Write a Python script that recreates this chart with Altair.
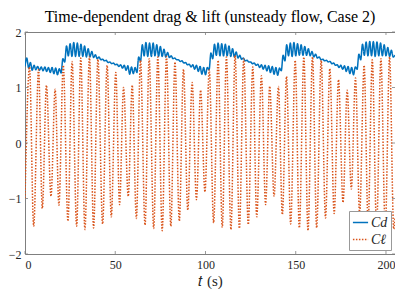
import altair as alt
import pandas as pd

title_text = "Time-dependent drag & lift (unsteady flow, Case 2)"
x_label = "𝑡 (s)"
series_names = ["Cd", "Cℓ"]
x_ticks = [0, 50, 100, 150, 200]
y_ticks = [-2, -1, 0, 1, 2]

# lift coefficient: successive peaks / troughs
cl_t = [0, 2.5, 4.8, 7.5, 9.6, 11.9, 14.4, 16.7, 18.8, 21.2, 23.8, 26.1, 28.6,
        30.9, 33.2, 35.7, 38.0, 40.4, 43.0, 45.5, 47.8, 50.3, 52.4, 54.6, 57.2,
        59.4, 61.7, 64.0, 66.5, 68.8, 71.3, 73.6, 76.0, 78.4, 80.8, 83.1, 85.5,
        87.8, 90.2, 92.6, 95.0, 97.3, 99.7, 102.1, 104.5, 107.0, 109.3, 111.6,
        114.1, 116.4, 118.8, 121.2, 123.7, 126.2, 128.4, 131.0, 133.3, 135.6,
        138.0, 140.4, 142.6, 144.9, 147.2, 149.7, 152.0, 154.5, 156.8, 159.3,
        161.6, 164.1, 166.5, 168.9, 171.3, 173.7, 176.2, 178.5, 180.8, 183.1,
        185.4, 187.9, 190.1, 192.4, 194.8, 197.2, 199.6, 202.0, 204.3, 205.0]
cl_v = [-1.00, 1.37, -1.50, 1.32, -1.18, 1.04, -0.96, 0.97, -1.12, 1.40, -1.41,
        1.47, -1.50, 1.53, -1.56, 1.56, -1.53, 1.51, -1.46, 1.40, -1.33, 1.27,
        -1.11, 1.00, -0.96, 1.04, -1.36, 1.49, -1.48, 1.52, -1.54, 1.55, -1.58,
        1.56, -1.50, 1.46, -1.41, 1.33, -1.21, 1.09, -1.02, 0.95, -0.88, 1.32,
        -1.44, 1.49, -1.52, 1.55, -1.56, 1.58, -1.54, 1.52, -1.47, 1.37, -1.33,
        1.21, -1.11, 1.02, -0.96, 1.02, -1.29, 1.20, -1.46, 1.49, -1.53, 1.55,
        -1.58, 1.55, -1.53, 1.49, -1.35, 1.34, -1.27, 1.14, -1.07, 0.95, -0.83,
        1.17, -1.27, 1.40, -1.45, 1.50, -1.52, 1.52, -1.55, 1.55, -1.55, -1.35]

# drag coefficient: successive wiggle extremes
cd_t = [0, 1, 2, 3, 4, 5, 6, 7, 8, 9, 10, 11, 12, 13, 14, 15, 16, 17, 18, 19,
        20, 21, 22, 23, 24, 25, 26, 27, 28, 29, 30, 31, 32, 33, 34, 35, 36, 37,
        38, 39, 40, 41, 42, 43, 44, 45, 46, 47, 48, 49, 50, 51, 52, 53, 54, 55,
        56, 57, 58, 59, 60, 61, 62, 63, 64, 65, 66, 67, 68, 69, 70, 71, 72, 73,
        74, 75, 76, 77, 78, 79, 80, 81, 82, 83, 84, 85, 86, 87, 88, 89, 90, 91,
        92, 93, 94, 95, 96, 97, 98, 99, 100, 101, 102, 103, 104, 105, 106, 107,
        108, 109, 110, 111, 112, 113, 114, 115, 116, 117, 118, 119, 120, 121,
        122, 123, 124, 125, 126, 127, 128, 129, 130, 131, 132, 133, 134, 135,
        136, 137, 138, 139, 140, 141, 142, 143, 144, 145, 146, 147, 148, 149,
        150, 151, 152, 153, 154, 155, 156, 157, 158, 159, 160, 161, 162, 163,
        164, 165, 166, 167, 168, 169, 170, 171, 172, 173, 174, 175, 176, 177,
        178, 179, 180, 181, 182, 183, 184, 185, 186, 187, 188, 189, 190, 191,
        192, 193, 194, 195, 196, 197, 198, 199, 200, 201, 202, 203, 204, 205]
cd_v = [1.38, 1.53, 1.35, 1.45, 1.31, 1.40, 1.32, 1.38, 1.31, 1.37,
        1.30, 1.37, 1.29, 1.36, 1.27, 1.36, 1.25, 1.35, 1.23, 1.34,
        1.26, 1.52, 1.46, 1.75, 1.57, 1.79, 1.56, 1.81, 1.56, 1.80,
        1.56, 1.78, 1.56, 1.75, 1.55, 1.70, 1.55, 1.65, 1.54, 1.59,
        1.52, 1.55, 1.50, 1.51, 1.48, 1.49, 1.45, 1.46, 1.43, 1.44,
        1.41, 1.42, 1.38, 1.41, 1.35, 1.40, 1.31, 1.39, 1.24, 1.37,
        1.25, 1.36, 1.27, 1.55, 1.47, 1.77, 1.57, 1.81, 1.56, 1.80,
        1.56, 1.80, 1.57, 1.77, 1.56, 1.74, 1.56, 1.69, 1.55, 1.63,
        1.54, 1.57, 1.52, 1.53, 1.50, 1.50, 1.47, 1.48, 1.44, 1.45,
        1.41, 1.42, 1.37, 1.41, 1.33, 1.40, 1.29, 1.38, 1.24, 1.36,
        1.23, 1.36, 1.32, 1.62, 1.52, 1.78, 1.58, 1.80, 1.57, 1.79,
        1.57, 1.78, 1.57, 1.75, 1.56, 1.70, 1.55, 1.64, 1.53, 1.58,
        1.51, 1.53, 1.48, 1.49, 1.46, 1.46, 1.43, 1.44, 1.40, 1.42,
        1.36, 1.41, 1.33, 1.40, 1.30, 1.39, 1.27, 1.38, 1.24, 1.36,
        1.22, 1.35, 1.30, 1.58, 1.48, 1.77, 1.57, 1.80, 1.56, 1.81,
        1.57, 1.79, 1.58, 1.77, 1.58, 1.74, 1.58, 1.70, 1.57, 1.65,
        1.55, 1.60, 1.53, 1.55, 1.50, 1.51, 1.48, 1.49, 1.46, 1.47,
        1.43, 1.44, 1.40, 1.41, 1.36, 1.40, 1.33, 1.39, 1.29, 1.38,
        1.25, 1.36, 1.23, 1.37, 1.33, 1.60, 1.50, 1.78, 1.58, 1.82,
        1.57, 1.83, 1.57, 1.83, 1.56, 1.82, 1.57, 1.80, 1.57, 1.77,
        1.57, 1.72, 1.56, 1.67, 1.55, 1.58]

serif = "Liberation Serif"
frame = "#7f7f7f"
blue = "#0072BD"
orange = "#D95319"

df = pd.concat([
    pd.DataFrame({"t": cd_t, "v": cd_v, "s": series_names[0]}),
    pd.DataFrame({"t": cl_t, "v": cl_v, "s": series_names[1]}),
])

W, H = 370, 222

xscale = alt.Scale(domain=[0, 205], nice=False, zero=False)
yscale = alt.Scale(domain=[-2, 2], nice=False, zero=False)

lines = alt.Chart(df).mark_line(strokeWidth=1.5, interpolate="monotone", clip=True).encode(
    x=alt.X("t:Q", scale=xscale,
            axis=alt.Axis(values=x_ticks, format="d", title=x_label, grid=False, domain=False,
                          ticks=False, labelFont=serif, labelFontSize=12, labelPadding=5,
                          labelColor="#262626", titleFont=serif, titleFontSize=15,
                          titleFontWeight="normal", titleColor="#262626", titlePadding=3)),
    y=alt.Y("v:Q", scale=yscale,
            axis=alt.Axis(values=y_ticks, format="d", title=None, grid=False, domain=False,
                          ticks=False, labelFont=serif, labelFontSize=12, labelPadding=4,
                          labelColor="#262626")),
    color=alt.Color("s:N", scale=alt.Scale(domain=series_names, range=[blue, orange]),
                    legend=alt.Legend(title=None, orient="bottom-right", offset=4,
                                      strokeColor="#999", fillColor="white", padding=3,
                                      symbolType="stroke", symbolSize=230, symbolStrokeWidth=1.5,
                                      labelFont=serif, labelFontSize=14, labelFontStyle="italic",
                                      labelColor="#262626", rowPadding=1, labelOffset=2)),
    strokeDash=alt.StrokeDash("s:N", scale=alt.Scale(domain=series_names, range=[[1, 0], [1.5, 1.5]]),
                              legend=None),
)

xt = pd.DataFrame({"t": x_ticks})
yt = pd.DataFrame({"v": y_ticks})
tick_len = 3
xb = alt.Chart(xt).mark_rule(color=frame, strokeWidth=0.8).encode(
    x=alt.X("t:Q"), y=alt.value(H), y2=alt.value(H - tick_len))
xtop = alt.Chart(xt).mark_rule(color=frame, strokeWidth=0.8).encode(
    x=alt.X("t:Q"), y=alt.value(0), y2=alt.value(tick_len))
yl = alt.Chart(yt).mark_rule(color=frame, strokeWidth=0.8).encode(
    y=alt.Y("v:Q"), x=alt.value(0), x2=alt.value(tick_len))
yr = alt.Chart(yt).mark_rule(color=frame, strokeWidth=0.8).encode(
    y=alt.Y("v:Q"), x=alt.value(W), x2=alt.value(W - tick_len))

chart = alt.layer(lines, xb, xtop, yl, yr).properties(
    width=W, height=H,
    title=alt.TitleParams(title_text, font=serif, fontSize=16, fontWeight="normal",
                          color="black", anchor="middle", offset=1),
    autosize=alt.AutoSizeParams(type="none"),
    padding={"left": 17, "top": 24, "right": 0, "bottom": 35},
).configure_view(stroke=frame, strokeWidth=1)

chart.save("out.html", embed_options={"renderer": "svg", "actions": False})
